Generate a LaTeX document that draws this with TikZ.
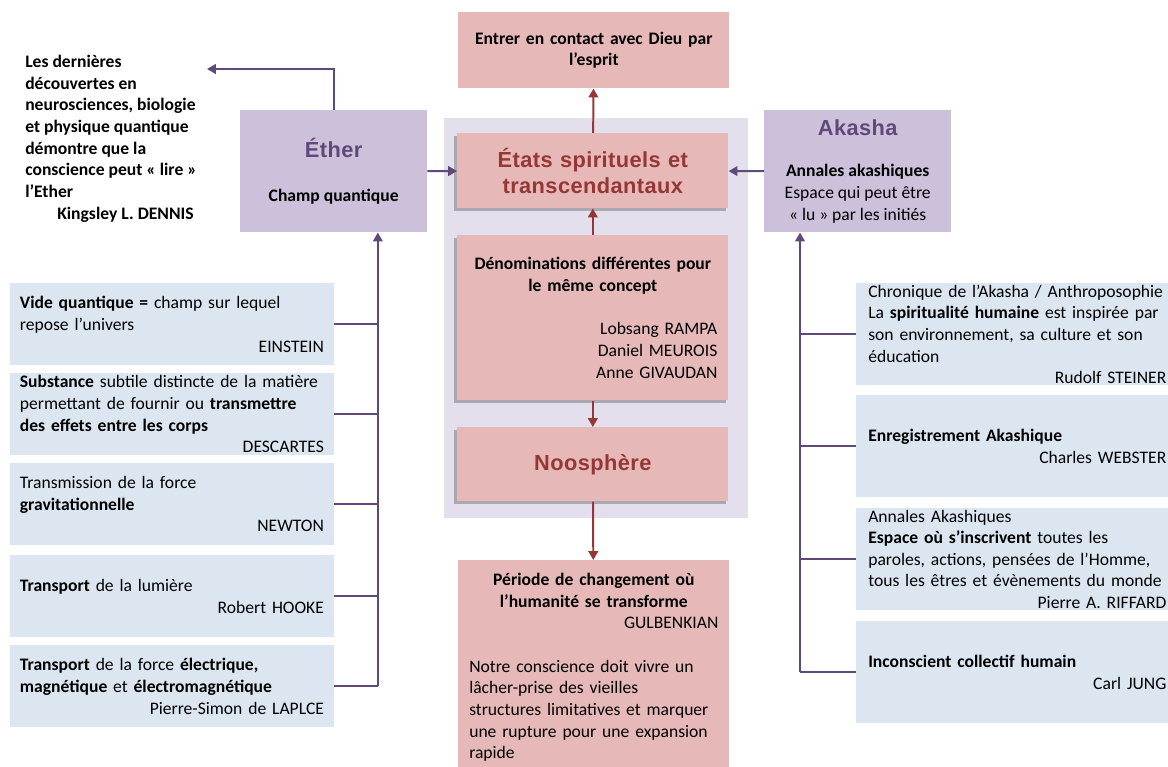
\documentclass[tikz,border=0pt]{standalone}
\usepackage{fontspec}
\setmainfont{Carlito}
\newfontfamily\titrefont[LetterSpace=2]{Liberation Sans}
\usetikzlibrary{arrows.meta,shadows}
\definecolor{akviolet}{HTML}{60497A}
\definecolor{akrouge}{HTML}{953735}
\definecolor{aklilas}{HTML}{CCC0DA}
\definecolor{akpanel}{HTML}{E4DFEC}
\definecolor{akrose}{HTML}{E6B8B7}
\definecolor{akbleu}{HTML}{DCE6F1}
\newcommand{\corps}{\fontsize{12.5}{15.4}\selectfont}
\newcommand{\titre}{\titrefont\bfseries\fontsize{15.5}{18.5}\selectfont}
\newcommand{\adroite}{\mbox{}\hfill}

\begin{document}
\begin{tikzpicture}[x=0.025cm,y=-0.025cm,
  every node/.style={font=\corps},
  bleu/.style={fill=akbleu,anchor=north west,inner xsep=0.24cm,inner ysep=0pt,
    text width=7.6cm,align=left,minimum height=2.05cm},
  rbleu/.style={bleu,inner xsep=0.3cm,text width=7.45cm,minimum height=2.55cm},
  rose/.style={fill=akrose,anchor=north west,inner xsep=0.275cm,inner ysep=0pt,
    text width=6.225cm,align=center},
  ombre/.style={drop shadow={shadow xshift=-2pt,shadow yshift=-2pt,opacity=0.45,fill=black!60}},
  lilas/.style={fill=aklilas,anchor=north west,inner sep=0pt,align=center,
    minimum width=4.67cm,minimum height=3.05cm},
  vline/.style={-{Triangle[length=2.2mm,width=2.4mm]},line width=1.4pt,akviolet},
  vbus/.style={line width=1.4pt,akviolet},
  rline/.style={-{Triangle[length=2.2mm,width=2.4mm]},line width=1.4pt,akrouge}]
  \useasboundingbox (0,0) rectangle (1168,767);
  \clip (0,0) rectangle (1168,767);
  % panneau central
  \fill[akpanel] (444,118) rectangle (748,518);

  \node[anchor=north west,inner sep=0pt,align=left,font=\corps\bfseries] (dennis) at (25,55)
    {Les dernières\\ découvertes en\\ neurosciences, biologie\\ et physique quantique\\
     démontre que la\\ conscience peut «~lire~»\\ l’Ether\\ \hspace*{0.8cm}Kingsley L. DENNIS};
  \coordinate (lire) at (207,69);

  \node[lilas] (ether) at (240,110)
    {{\titre\color{akviolet}Éther}\\[16pt]\textbf{Champ quantique}};
  \node[lilas] (akasha) at (764,110)
    {{\titre\color{akviolet}Akasha}\\[14pt]\textbf{Annales akashiques}\\ Espace qui peut être\\ «~lu~» par les initiés};

  \node[rose,minimum height=1.9cm] (entrer) at (458,12)
    {\textbf{Entrer en contact avec Dieu par}\\ \textbf{l’esprit}};
  \node[rose,ombre,minimum height=1.875cm,font=\titre,text=akrouge] (etats) at (457,133)
    {États spirituels et\\ transcendantaux};
  \node[rose,ombre,minimum height=4.125cm] (denom) at (457,235)
    {\textbf{Dénominations différentes pour}\\ \textbf{le même concept}\\[15.4pt]
     \adroite Lobsang RAMPA\\ \adroite Daniel MEUROIS\\ \adroite Anne GIVAUDAN};
  \node[rose,ombre,minimum height=1.85cm,font=\titre,text=akrouge] (noo) at (457,427) {Noosphère};
  \node[rose,align=left,minimum height=5.35cm] (periode) at (458,560)
    {{\centering\bfseries Période de changement où\\ l’humanité se transforme\par}
     \adroite GULBENKIAN\\[15.4pt]
     Notre conscience doit vivre un\\ lâcher-prise des vieilles\\ structures limitatives et marquer\\
     une rupture pour une expansion\\ rapide};

  % colonne de gauche
  \node[bleu] (vide) at (10,283)
    {\textbf{Vide quantique =} champ sur lequel\\ repose l’univers\\ \adroite EINSTEIN};
  \node[bleu] (descartes) at (10,373)
    {\textbf{Substance} subtile distincte de la matière\\ permettant de fournir ou \textbf{transmettre}\\
     \textbf{des effets entre les corps}\\ \adroite DESCARTES};
  \node[bleu] (newton) at (10,463)
    {Transmission de la force\\ \textbf{gravitationnelle}\\ \adroite NEWTON};
  \node[bleu] (hooke) at (10,555)
    {\textbf{Transport} de la lumière\\ \adroite Robert HOOKE};
  \node[bleu] (laplace) at (10,645)
    {\textbf{Transport} de la force \textbf{électrique,}\\ \textbf{magnétique} et \textbf{électromagnétique}\\
     \adroite Pierre-Simon de LAPLCE};

  % colonne de droite
  \node[rbleu] (steiner) at (856,283)
    {Chronique de l’Akasha / Anthroposophie\\ La \textbf{spiritualité humaine} est inspirée par\\
     son environnement, sa culture et son\\ éducation\\ \adroite Rudolf STEINER};
  \node[rbleu] (webster) at (856,395)
    {\textbf{Enregistrement Akashique}\\ \adroite Charles WEBSTER};
  \node[rbleu] (riffard) at (856,508)
    {Annales Akashiques\\ \textbf{Espace où s’inscrivent} toutes les\\ paroles, actions, pensées de l’Homme,\\
     tous les êtres et évènements du monde\\ \adroite Pierre A. RIFFARD};
  \node[rbleu] (jung) at (856,621)
    {\textbf{Inconscient collectif humain}\\ \adroite Carl JUNG};

  % connecteurs
  \draw[rline] (etats) -- (entrer);
  \draw[rline] (denom) -- (etats);
  \draw[rline] (denom) -- (noo);
  \draw[rline] (noo) -- (periode);
  \draw[vline] (ether) -- (etats);
  \draw[vline] (akasha) -- (etats);
  \draw[vline] (ether.north) |- (lire);

  \path (laplace.east) ++(44,0) coordinate (ebus);
  \draw[vline] (ebus) -- (ebus |- ether.south);
  \foreach \n in {vide,descartes,newton,hooke,laplace}
    \draw[vbus] (\n.east) -- (\n.east -| ebus);

  \path (jung.west) ++(-56,0) coordinate (abus);
  \draw[vline] (abus) -- (abus |- akasha.south);
  \foreach \n in {steiner,webster,riffard,jung}
    \draw[vbus] (\n.west) -- (\n.west -| abus);
\end{tikzpicture}
\end{document}
